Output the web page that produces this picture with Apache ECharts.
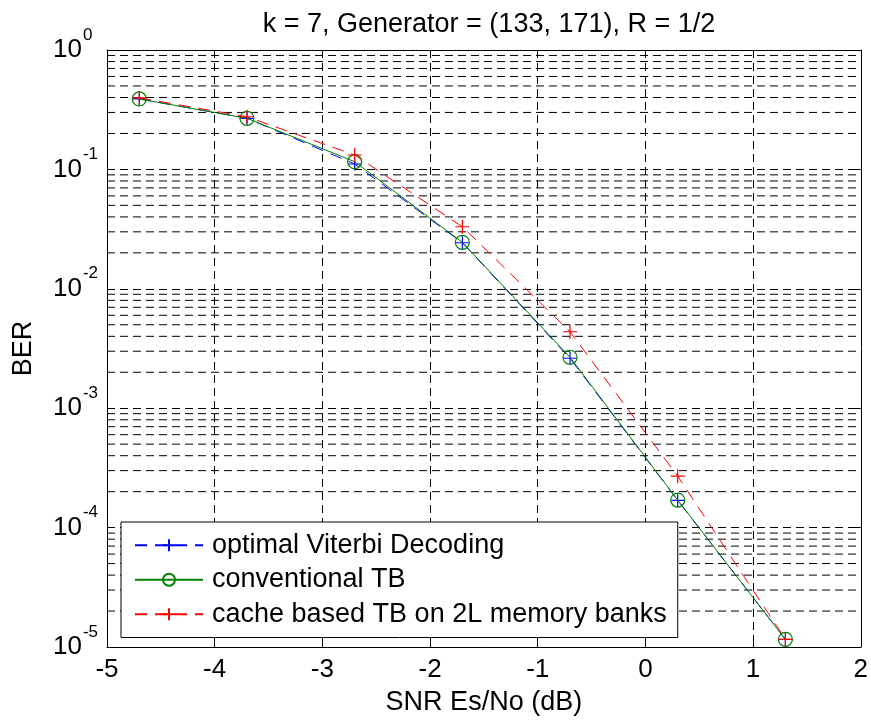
<!DOCTYPE html>
<html>
<head>
<meta charset="utf-8">
<script src="https://cdn.jsdelivr.net/npm/echarts@6/dist/echarts.min.js"></script>
<style>
html,body{margin:0;padding:0;background:#fff;}
#chart{width:871px;height:721px;}
</style>
</head>
<body>
<div id="chart"></div>
<script>
// ---- data ----
var snr = [-4.7, -3.7, -2.7, -1.7, -0.7, 0.3, 1.3];
var berOptimal = [0.389, 0.268, 0.111, 0.0243, 0.00262, 1.69e-4, 1.16e-5];
var berConventional = [0.389, 0.268, 0.116, 0.0245, 0.00267, 1.70e-4, 1.16e-5];
var berCache = [0.397, 0.276, 0.132, 0.0331, 0.00437, 2.70e-4, 1.16e-5];
var seriesNames = ['optimal Viterbi Decoding', 'conventional TB', 'cache based TB on 2L memory banks'];
var titleText = 'k = 7, Generator = (133, 171), R = 1/2';
var xName = 'SNR Es/No (dB)';
var yName = 'BER';
var xMin = -5, xMax = 2;
var decades = [-5, -4, -3, -2, -1];
var minorDigits = [2, 3, 4, 5, 6, 7, 8, 9];

function pairs(xs, ys) { return xs.map(function (x, i) { return [x, ys[i]]; }); }

var FONT = 'Liberation Sans, Arial, sans-serif';
var PLUS = 'path://M0,5L10,5M5,0L5,10';
var DASH = [8, 5];

// minor grid lines (horizontal, at 2..9 x 10^e) drawn as plain line series
var gridSeries = [];
decades.forEach(function (e) {
  minorDigits.forEach(function (d) {
    var v = d * Math.pow(10, e);
    gridSeries.push({
      name: 'grid', type: 'line', data: [[xMin, v], [xMax, v]],
      symbol: 'none', silent: true, z: 0, animation: false,
      lineStyle: { color: '#000', type: DASH, width: 1 },
      emphasis: { disabled: true }
    });
  });
});

var chart = echarts.init(document.getElementById('chart'));
chart.setOption({
  animation: false,
  backgroundColor: '#fff',
  title: {
    text: titleText, left: 484, top: 6, textAlign: 'center',
    textStyle: { fontFamily: FONT, fontSize: 27, fontWeight: 'normal', color: '#000' }
  },
  grid: { left: 107, right: 9, top: 50, bottom: 74, show: false },
  legend: {
    data: seriesNames,
    orient: 'vertical',
    left: 121, top: 522,
    width: 557,
    padding: [6, 11, 6, 13],
    itemGap: 0,
    itemWidth: 68, itemHeight: 15,
    backgroundColor: '#fff',
    borderColor: '#000', borderWidth: 1,
    textStyle: { fontFamily: FONT, fontSize: 27, color: '#000', lineHeight: 34.5, padding: [0, 0, 0, 4] }
  },
  xAxis: [{
    type: 'value', min: xMin, max: xMax, interval: 1,
    name: xName, nameLocation: 'middle', nameGap: 42,
    nameTextStyle: { fontFamily: FONT, fontSize: 27, color: '#000' },
    axisLine: { show: true, onZero: false, lineStyle: { color: '#000', width: 1 } },
    axisTick: { show: true, inside: true, length: 7, lineStyle: { color: '#000' } },
    axisLabel: { fontFamily: FONT, fontSize: 26, color: '#000', margin: 10 },
    splitLine: { show: true, lineStyle: { color: '#000', type: DASH, width: 1 } }
  }, {
    type: 'value', min: xMin, max: xMax, interval: 1, position: 'top',
    axisLine: { show: true, onZero: false, lineStyle: { color: '#000', width: 1 } },
    axisTick: { show: true, inside: true, length: 7, lineStyle: { color: '#000' } },
    axisLabel: { show: false }, splitLine: { show: false }
  }],
  yAxis: [{
    type: 'log', logBase: 10, min: 1e-5, max: 1,
    name: yName, nameLocation: 'middle', nameGap: 70, nameRotate: 90,
    nameTextStyle: { fontFamily: FONT, fontSize: 27, color: '#000' },
    axisLine: { show: true, onZero: false, lineStyle: { color: '#000', width: 1 } },
    axisTick: { show: true, inside: true, length: 7, lineStyle: { color: '#000' } },
    axisLabel: {
      align: 'left', margin: 54,
      formatter: function (v) {
        var e = Math.round(Math.log(v) / Math.LN10);
        return '{b|10}{s|' + e + '}';
      },
      rich: {
        b: { fontFamily: FONT, fontSize: 26, color: '#000' },
        s: { fontFamily: FONT, fontSize: 17, color: '#000', padding: [0, 0, 30, 1] }
      }
    },
    splitLine: { show: true, lineStyle: { color: '#000', type: DASH, width: 1 } }
  }, {
    type: 'log', logBase: 10, min: 1e-5, max: 1, position: 'right',
    axisLine: { show: true, onZero: false, lineStyle: { color: '#000', width: 1 } },
    axisTick: { show: true, inside: true, length: 7, lineStyle: { color: '#000' } },
    axisLabel: { show: false }, splitLine: { show: false }
  }],
  series: gridSeries.concat([{
    name: seriesNames[0], type: 'line', data: pairs(snr, berOptimal),
    symbol: PLUS, symbolSize: 13,
    lineStyle: { color: '#0000ff', width: 1, type: [12, 8] },
    itemStyle: { color: 'rgba(0,0,0,0)', borderColor: '#0000ff', borderWidth: 1.2 },
    z: 3
  }, {
    name: seriesNames[1], type: 'line', data: pairs(snr, berConventional),
    symbol: 'circle', symbolSize: 14,
    lineStyle: { color: '#008000', width: 1, type: 'solid' },
    itemStyle: { color: 'rgba(0,0,0,0)', borderColor: '#008000', borderWidth: 1.2 },
    z: 4
  }, {
    name: seriesNames[2], type: 'line', data: pairs(snr, berCache),
    symbol: PLUS, symbolSize: 14,
    lineStyle: { color: '#ff0000', width: 1, type: [12, 8] },
    itemStyle: { color: 'rgba(0,0,0,0)', borderColor: '#ff0000', borderWidth: 1.2 },
    z: 5
  }])
});
</script>
</body>
</html>
